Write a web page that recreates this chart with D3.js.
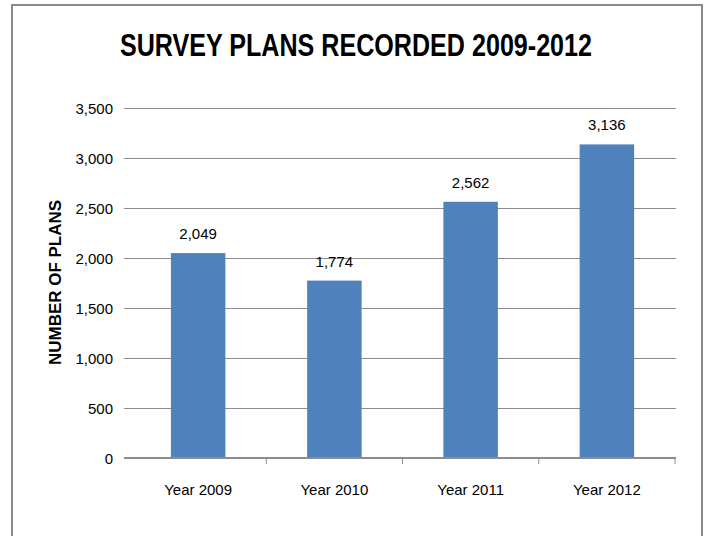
<!DOCTYPE html>
<html>
<head>
<meta charset="utf-8">
<script src="https://cdn.jsdelivr.net/npm/d3@7"></script>
<style>
  body { margin: 0; background: #fff; }
  text { font-family: "Liberation Sans Narrow", "Liberation Sans", sans-serif; fill: #000; }
</style>
</head>
<body>
<svg id="chart"></svg>
<script>
// chart data
const years = ['Year 2009', 'Year 2010', 'Year 2011', 'Year 2012'];
const plans = [2049, 1774, 2562, 3136];
const yTicks = [0, 500, 1000, 1500, 2000, 2500, 3000, 3500];

const width = 709;
const height = 536;
const plot = { left: 130, right: 675, top: 108, bottom: 458 };

const svg = d3.select('svg#chart').attr('width', width).attr('height', height);

// outer frame
svg.append('rect')
    .attr('x', 12).attr('y', 5)
    .attr('width', 690).attr('height', 545)
    .attr('fill', 'none')
    .attr('stroke', '#8a8a8a')
    .attr('stroke-width', 2);

const x = d3.scaleBand().domain(years).range([plot.left, plot.right]).paddingInner(0.6).paddingOuter(0.3);
const xCat = d3.scaleBand().domain(years).range([plot.left, plot.right]);
const y = d3.scaleLinear().domain([0, 3500]).range([plot.bottom, plot.top]);

// gridlines + y tick labels
const yAxis = d3.axisLeft(y)
    .tickValues(yTicks)
    .tickFormat(d3.format(','))
    .tickSize(-(plot.right - plot.left + 7))
    .tickPadding(10);
const gy = svg.append('g').attr('transform', `translate(${plot.right + 1},0)`);
gy.call(yAxis);
gy.select('.domain').remove();
gy.selectAll('.tick line').attr('stroke', '#8c8c8c').attr('x1', 0).attr('x2', -(plot.right + 1 - 124));
gy.selectAll('.tick text')
    .attr('x', -(plot.right + 1 - 113))
    .attr('dy', '0.35em')
    .attr('font-size', 15)
    .attr('text-anchor', 'end');

// bars
svg.selectAll('rect.bar')
    .data(plans)
    .enter().append('rect')
    .attr('class', 'bar')
    .attr('x', (d, i) => x(years[i]))
    .attr('width', x.bandwidth())
    .attr('y', d => y(d))
    .attr('height', d => y(0) - y(d))
    .attr('fill', '#4f81bd');

// value labels
svg.selectAll('text.val')
    .data(plans)
    .enter().append('text')
    .attr('class', 'val')
    .attr('x', (d, i) => x(years[i]) + x.bandwidth() / 2)
    .attr('y', d => y(d) - 14)
    .attr('text-anchor', 'middle')
    .attr('font-size', 15)
    .text(d => d3.format(',')(d));

// x axis
const xAxis = d3.axisBottom(xCat).tickSize(0).tickPadding(26);
const gx = svg.append('g').attr('transform', `translate(0,${plot.bottom})`);
gx.call(xAxis);
gx.select('.domain').remove();
gx.selectAll('.tick text').attr('font-size', 15);
svg.append('line')
    .attr('x1', 124).attr('x2', plot.right + 1)
    .attr('y1', plot.bottom).attr('y2', plot.bottom)
    .attr('stroke', '#8c8c8c').attr('stroke-width', 2);
svg.selectAll('line.xtick')
    .data(d3.range(1, years.length + 1))
    .enter().append('line')
    .attr('class', 'xtick')
    .attr('x1', i => plot.left + i * xCat.step())
    .attr('x2', i => plot.left + i * xCat.step())
    .attr('y1', plot.bottom).attr('y2', plot.bottom + 6)
    .attr('stroke', '#8c8c8c')
    .attr('stroke-width', 1);

// title
svg.append('text')
    .attr('x', 356).attr('y', 56)
    .attr('text-anchor', 'middle')
    .attr('font-size', 31)
    .attr('font-weight', 'bold')
    .attr('textLength', 472)
    .attr('lengthAdjust', 'spacingAndGlyphs')
    .text('SURVEY PLANS RECORDED 2009-2012');

// y axis title
svg.append('text')
    .attr('transform', 'translate(61,282.5) rotate(-90)')
    .attr('text-anchor', 'middle')
    .attr('font-size', 17)
    .attr('font-weight', 'bold')
    .attr('font-family', '"Liberation Sans", sans-serif')
    .attr('textLength', 165)
    .attr('lengthAdjust', 'spacingAndGlyphs')
    .text('NUMBER OF PLANS');
</script>
</body>
</html>
